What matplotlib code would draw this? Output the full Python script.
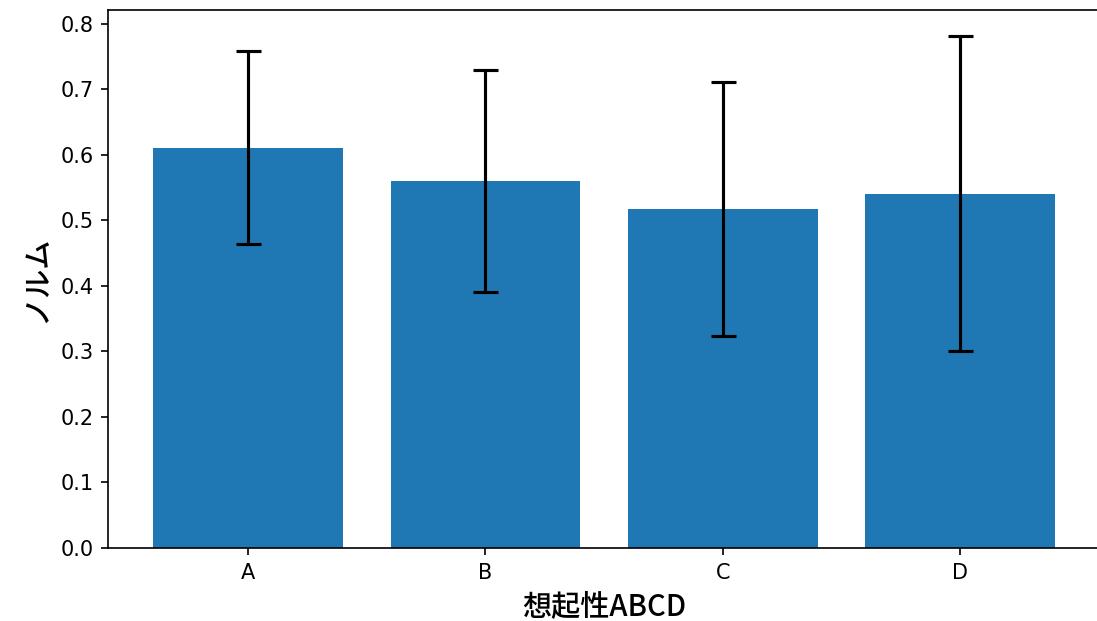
import matplotlib
matplotlib.use("Agg")
import matplotlib.pyplot as plt

categories = ["A", "B", "C", "D"]
means = [0.611, 0.560, 0.517, 0.541]
errors = [0.147, 0.169, 0.194, 0.241]

plt.rcParams['font.family'] = ['Noto Sans CJK JP', 'DejaVu Sans']

fig = plt.figure(figsize=(1097 / 150, 621 / 150), dpi=150)
ax = fig.add_axes([0.0985, 0.1176, 0.9045, 0.8663])

ax.bar(categories, means, yerr=errors, capsize=6, color="#1f77b4",
       error_kw=dict(ecolor="black", elinewidth=1.5, capthick=1.5))

ax.tick_params(labelsize=10)
for lbl in ax.get_xticklabels() + ax.get_yticklabels():
    lbl.set_family("DejaVu Sans")

ax.set_xlabel("想起性ABCD", fontsize=14, fontweight="medium")
ax.set_ylabel("ノルム", fontsize=14, fontweight="medium")

fig.savefig("out.png", dpi=150)
